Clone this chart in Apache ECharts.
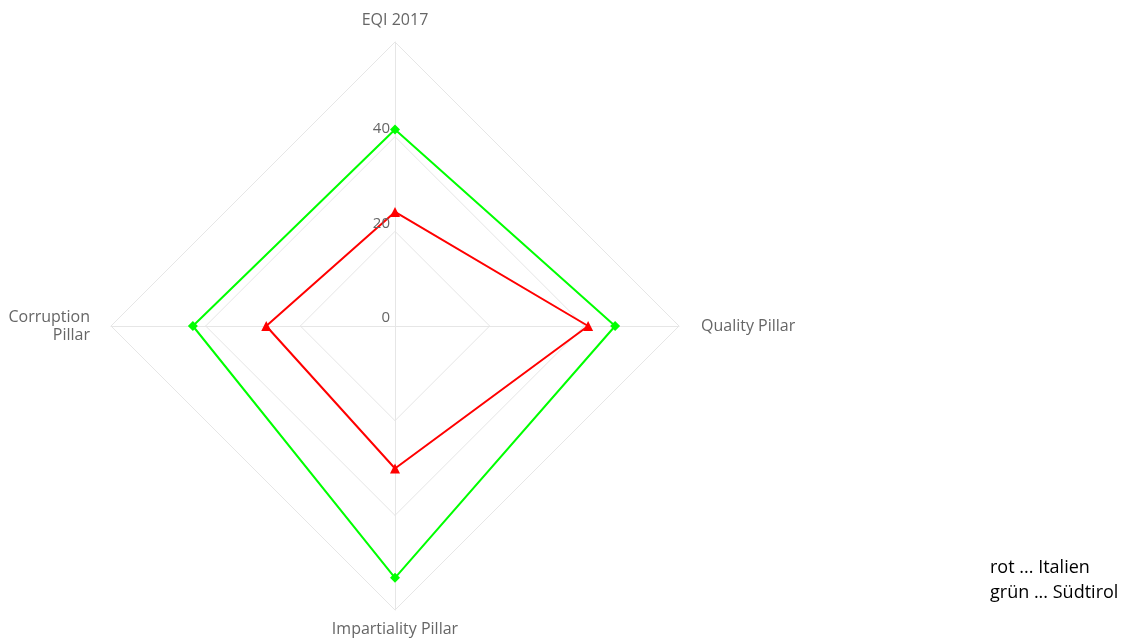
<!DOCTYPE html>
<html>
<head>
<meta charset="utf-8">
<script src="https://cdn.jsdelivr.net/npm/echarts@6/dist/echarts.min.js"></script>
<style>
  html, body { margin: 0; padding: 0; background: #fff; }
  #chart { width: 1122px; height: 641px; }
</style>
</head>
<body>
<div id="chart"></div>
<script>
// Indicators, listed counter-clockwise from the top (ECharts radar order)
const indicatorNames = ['EQI 2017', 'Corruption\nPillar', 'Impartiality Pillar', 'Quality Pillar'];
// Which side of the web each indicator name sits on
const indicatorSides = ['top', 'left', 'bottom', 'right'];
const axisMax = 60;
const tickStep = 20;

// Series values in the same indicator order
const italien = [24.1, 27.2, 30.1, 40.8];
const suedtirol = [41.5, 42.7, 53.2, 46.5];

const legendLines = ['rot ... Italien', 'grün ... Südtirol'];

const FONT = '"Open Sans", "Noto Sans", sans-serif';
const CENTER = [395, 326];
const RADIUS = 284;

const chart = echarts.init(document.getElementById('chart'));

const indicators = indicatorNames.map(name => ({ name: name, min: 0, max: axisMax }));

const nameStyle = { color: '#666', fontSize: 16, fontFamily: FONT, lineHeight: 18 };

chart.setOption({
  animation: false,
  backgroundColor: '#fff',
  // polar system sharing the radar's centre: carries the value labels of the vertical axis
  polar: { center: CENTER, radius: RADIUS },
  angleAxis: { type: 'value', min: 0, max: 360, startAngle: 90, show: false },
  radiusAxis: {
    type: 'value',
    min: 0,
    max: axisMax,
    interval: tickStep,
    z: 5,
    axisLine: { show: false },
    axisTick: { show: false },
    splitLine: { show: false },
    axisLabel: {
      showMaxLabel: false,
      color: '#666',
      fontSize: 15,
      fontFamily: FONT,
      margin: 5,
      verticalAlign: 'bottom',
      lineHeight: 16
    }
  },
  radar: {
    center: CENTER,
    radius: RADIUS,
    shape: 'polygon',
    splitNumber: 3,
    indicator: indicators,
    nameGap: 10,
    axisName: {
      color: '#666',
      fontSize: 16,
      fontFamily: FONT,
      lineHeight: 18,
      formatter: function (name) {
        const side = indicatorSides[indicatorNames.indexOf(name)];
        return name.split('\n').map(line => '{' + side + '|' + line + '}').join('\n');
      },
      rich: {
        top: Object.assign({ padding: [0, 0, 5, 0] }, nameStyle),
        bottom: Object.assign({ padding: [0, 0, 0, 0] }, nameStyle),
        left: Object.assign({ padding: [0, 11, 0, 0] }, nameStyle),
        right: Object.assign({ padding: [0, 0, 0, 12] }, nameStyle)
      }
    },
    axisLabel: { show: false },
    axisLine: { lineStyle: { color: '#e6e6e6', width: 1 } },
    splitLine: { lineStyle: { color: '#e6e6e6', width: 1 } },
    splitArea: { show: false },
    axisTick: { show: false }
  },
  series: [
    {
      type: 'radar',
      data: [
        {
          name: 'Südtirol',
          value: suedtirol,
          symbol: 'diamond',
          symbolSize: 10,
          lineStyle: { color: '#00ff00', width: 2 },
          itemStyle: { color: '#00ff00' }
        },
        {
          name: 'Italien',
          value: italien,
          symbol: 'triangle',
          symbolSize: 10,
          lineStyle: { color: '#ff0000', width: 2 },
          itemStyle: { color: '#ff0000' }
        }
      ]
    }
  ],
  graphic: [
    {
      type: 'text',
      left: 990,
      top: 555,
      style: {
        text: legendLines.join('\n'),
        fill: '#000',
        font: '18px ' + FONT,
        lineHeight: 25
      }
    }
  ]
});
</script>
</body>
</html>
